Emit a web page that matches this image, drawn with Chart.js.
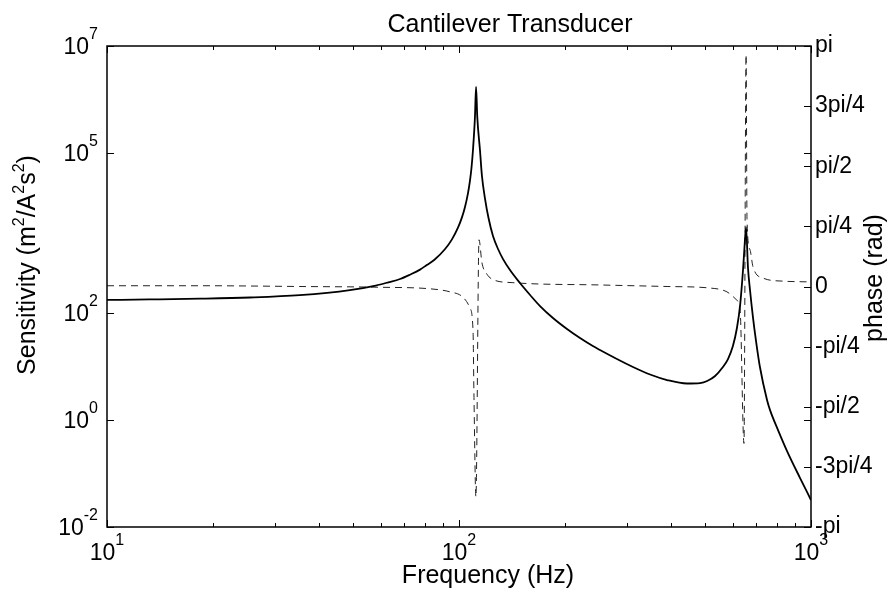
<!DOCTYPE html>
<html>
<head>
<meta charset="utf-8">
<title>Cantilever Transducer</title>
<script src="https://cdn.jsdelivr.net/npm/chart.js@4.4.0/dist/chart.umd.min.js"></script>
<style>
  body { margin: 0; background: #fff; }
  canvas { display: block; }
</style>
</head>
<body>
<canvas id="sensChart" width="889" height="590"></canvas>
<script>
// sensitivity (solid curve)
var magFreq = [10, 13.2, 18.4, 25.5, 35.3, 49, 58, 63, 68, 72.5, 77.5, 81, 85, 91.3, 95.5, 99.4, 102, 104, 106.1, 107.4, 108.5, 109.6, 111, 111.8, 112.7, 114.7, 116.2, 118.6, 121.3, 124.9, 129.1, 133.4, 139.6, 149, 159.2, 169.9, 184.9, 202.7, 220.7, 240, 251.5, 281, 312, 349, 390, 444, 484, 507, 534, 562, 581, 600, 616, 629, 641, 647, 654, 662, 671, 684, 698, 716, 750, 765, 806, 855, 931, 1000];
var magVal = [177, 181, 187, 197, 218, 271, 330, 379, 437, 525, 654, 798, 990, 1590, 2410, 4020, 6280, 9710, 17900, 29600, 52100, 116000, 469000, 1710000, 469000, 113000, 36900, 13700, 6040, 2780, 1590, 1030, 643, 367, 219, 136, 81.3, 50.6, 34.3, 24.3, 20.5, 13.9, 9.85, 7.13, 5.62, 4.84, 4.94, 5.39, 6.68, 9.85, 13.9, 24.3, 52.9, 142, 643, 1660, 4100, 732, 272, 84.9, 30.2, 9.85, 2.38, 1.54, 0.652, 0.264, 0.0824, 0.032];

// phase (dashed curve), rad
var phaseFreq = [10, 18.4, 35.3, 59.7, 82.7, 94.3, 102.6, 107.4, 109.6, 110.3, 111.7, 114, 116.2, 120.1, 124.9, 142.3, 251.5, 390, 516, 577, 616, 629, 645, 654, 658, 671, 684, 731, 832, 991];
var phaseVal = [0.01, 0.01, 0, -0.01, -0.03, -0.07, -0.14, -0.28, -0.57, -1.45, -2.75, 0.61, 0.31, 0.16, 0.09, 0.05, 0.02, 0, -0.02, -0.07, -0.18, -0.31, -2.05, 3.03, 0.87, 0.48, 0.26, 0.11, 0.07, 0.06];

// axis ticks
var xMajor = [10, 100, 1000];
var xMajorExp = ['1', '2', '3'];
var xMinor = [20, 30, 40, 50, 60, 70, 80, 90, 200, 300, 400, 500, 600, 700, 800, 900];
var yTicks = [1e-2, 1, 1e2, 1e5, 1e7];
var yTickExp = ['-2', '0', '2', '5', '7'];
var phaseTicks = [-Math.PI, -3 * Math.PI / 4, -Math.PI / 2, -Math.PI / 4, 0, Math.PI / 4, Math.PI / 2, 3 * Math.PI / 4, Math.PI];
var phaseLabels = ['-pi', '-3pi/4', '-pi/2', '-pi/4', '0', 'pi/4', 'pi/2', '3pi/4', 'pi'];

var FONT = '"Liberation Sans", Arial, Helvetica, sans-serif';

function toPoints(xs, ys) {
    var pts = [];
    for (var i = 0; i < xs.length; i++) pts.push({ x: xs[i], y: ys[i] });
    return pts;
}

// "10" with a raised exponent
function drawPower(ctx, px, baseY, exp, mode) {
    ctx.font = '23px ' + FONT;
    var w1 = ctx.measureText('10').width;
    ctx.font = '16px ' + FONT;
    var w2 = ctx.measureText(exp).width;
    var start = mode === 'right' ? px - w1 - w2 : px - (w1 + w2) / 2;
    ctx.textAlign = 'left';
    ctx.textBaseline = 'alphabetic';
    ctx.font = '23px ' + FONT;
    ctx.fillText('10', start, baseY);
    ctx.font = '16px ' + FONT;
    ctx.fillText(exp, start + w1, baseY - 15);
}

var matlabAxes = {
    id: 'matlabAxes',
    afterDraw: function(chart) {
        var ctx = chart.ctx;
        var a = chart.chartArea;
        var xs = chart.scales.x, ys = chart.scales.y, ps = chart.scales.y1;
        ctx.save();
        ctx.strokeStyle = '#000';
        ctx.fillStyle = '#000';
        ctx.lineWidth = 1.5;
        ctx.strokeRect(a.left, a.top, a.right - a.left, a.bottom - a.top);

        // inward ticks, MATLAB style
        ctx.lineWidth = 1;
        ctx.beginPath();
        xMajor.forEach(function(v) {
            var px = Math.round(xs.getPixelForValue(v)) + 0.5;
            ctx.moveTo(px, a.bottom); ctx.lineTo(px, a.bottom - 7);
            ctx.moveTo(px, a.top); ctx.lineTo(px, a.top + 7);
        });
        xMinor.forEach(function(v) {
            var px = Math.round(xs.getPixelForValue(v)) + 0.5;
            ctx.moveTo(px, a.bottom); ctx.lineTo(px, a.bottom - 4);
            ctx.moveTo(px, a.top); ctx.lineTo(px, a.top + 4);
        });
        yTicks.forEach(function(v) {
            var py = Math.round(ys.getPixelForValue(v)) + 0.5;
            ctx.moveTo(a.left, py); ctx.lineTo(a.left + 7, py);
            ctx.moveTo(a.right, py); ctx.lineTo(a.right - 7, py);
        });
        phaseTicks.forEach(function(v) {
            var py = Math.round(ps.getPixelForValue(v)) + 0.5;
            ctx.moveTo(a.right, py); ctx.lineTo(a.right - 7, py);
        });
        ctx.stroke();

        // tick labels
        xMajor.forEach(function(v, i) {
            drawPower(ctx, xs.getPixelForValue(v), 560, xMajorExp[i], 'center');
        });
        yTicks.forEach(function(v, i) {
            drawPower(ctx, a.left - 9, ys.getPixelForValue(v) + 8, yTickExp[i], 'right');
        });
        ctx.font = '23px ' + FONT;
        ctx.textAlign = 'left';
        ctx.textBaseline = 'middle';
        phaseTicks.forEach(function(v, i) {
            ctx.fillText(phaseLabels[i], a.right + 4, ps.getPixelForValue(v));
        });

        // title and axis titles
        ctx.font = '25px ' + FONT;
        ctx.textAlign = 'center';
        ctx.textBaseline = 'alphabetic';
        ctx.fillText('Cantilever Transducer', 510, 32);
        ctx.fillText('Frequency (Hz)', 488, 583);

        ctx.save();
        ctx.translate(882, 278);
        ctx.rotate(-Math.PI / 2);
        ctx.fillText('phase (rad)', 0, 0);
        ctx.restore();

        // Sensitivity (m^2/A^2s^2)
        var parts = [['Sensitivity (m', 0], ['2', 1], ['/A', 0], ['2', 1], ['s', 0], ['2', 1], [')', 0]];
        var total = 0;
        parts.forEach(function(p) {
            ctx.font = (p[1] ? '16px ' : '25px ') + FONT;
            p.push(ctx.measureText(p[0]).width);
            total += p[2];
        });
        ctx.save();
        ctx.translate(35, 265);
        ctx.rotate(-Math.PI / 2);
        ctx.textAlign = 'left';
        var u = -total / 2;
        parts.forEach(function(p) {
            ctx.font = (p[1] ? '16px ' : '25px ') + FONT;
            ctx.fillText(p[0], u, p[1] ? -11 : 0);
            u += p[2];
        });
        ctx.restore();
        ctx.restore();
    }
};

var ctx = document.getElementById('sensChart').getContext('2d');
var chart = new Chart(ctx, {
    type: 'line',
    data: {
        datasets: [{
            label: 'Sensitivity',
            data: toPoints(magFreq, magVal),
            yAxisID: 'y',
            borderColor: '#000',
            borderWidth: 1.8,
            pointRadius: 0,
            cubicInterpolationMode: 'monotone'
        }, {
            label: 'phase',
            data: toPoints(phaseFreq, phaseVal),
            yAxisID: 'y1',
            borderColor: '#222',
            borderWidth: 1,
            borderDash: [7, 5],
            pointRadius: 0,
            cubicInterpolationMode: 'monotone'
        }]
    },
    options: {
        responsive: false,
        animation: false,
        layout: { padding: { top: 46 } },
        plugins: {
            legend: { display: false },
            tooltip: { enabled: false },
            title: { display: false }
        },
        scales: {
            x: {
                type: 'logarithmic',
                min: 10,
                max: 1000,
                ticks: { display: false },
                grid: { display: false },
                border: { display: false },
                afterFit: function(s) { s.height = 63; }
            },
            y: {
                type: 'logarithmic',
                position: 'left',
                min: 1e-2,
                max: 1e7,
                ticks: { display: false },
                grid: { display: false },
                border: { display: false },
                afterFit: function(s) { s.width = 107; }
            },
            y1: {
                type: 'linear',
                position: 'right',
                min: -Math.PI,
                max: Math.PI,
                ticks: { display: false },
                grid: { display: false },
                border: { display: false },
                afterFit: function(s) { s.width = 78; }
            }
        }
    },
    plugins: [matlabAxes]
});
</script>
</body>
</html>
